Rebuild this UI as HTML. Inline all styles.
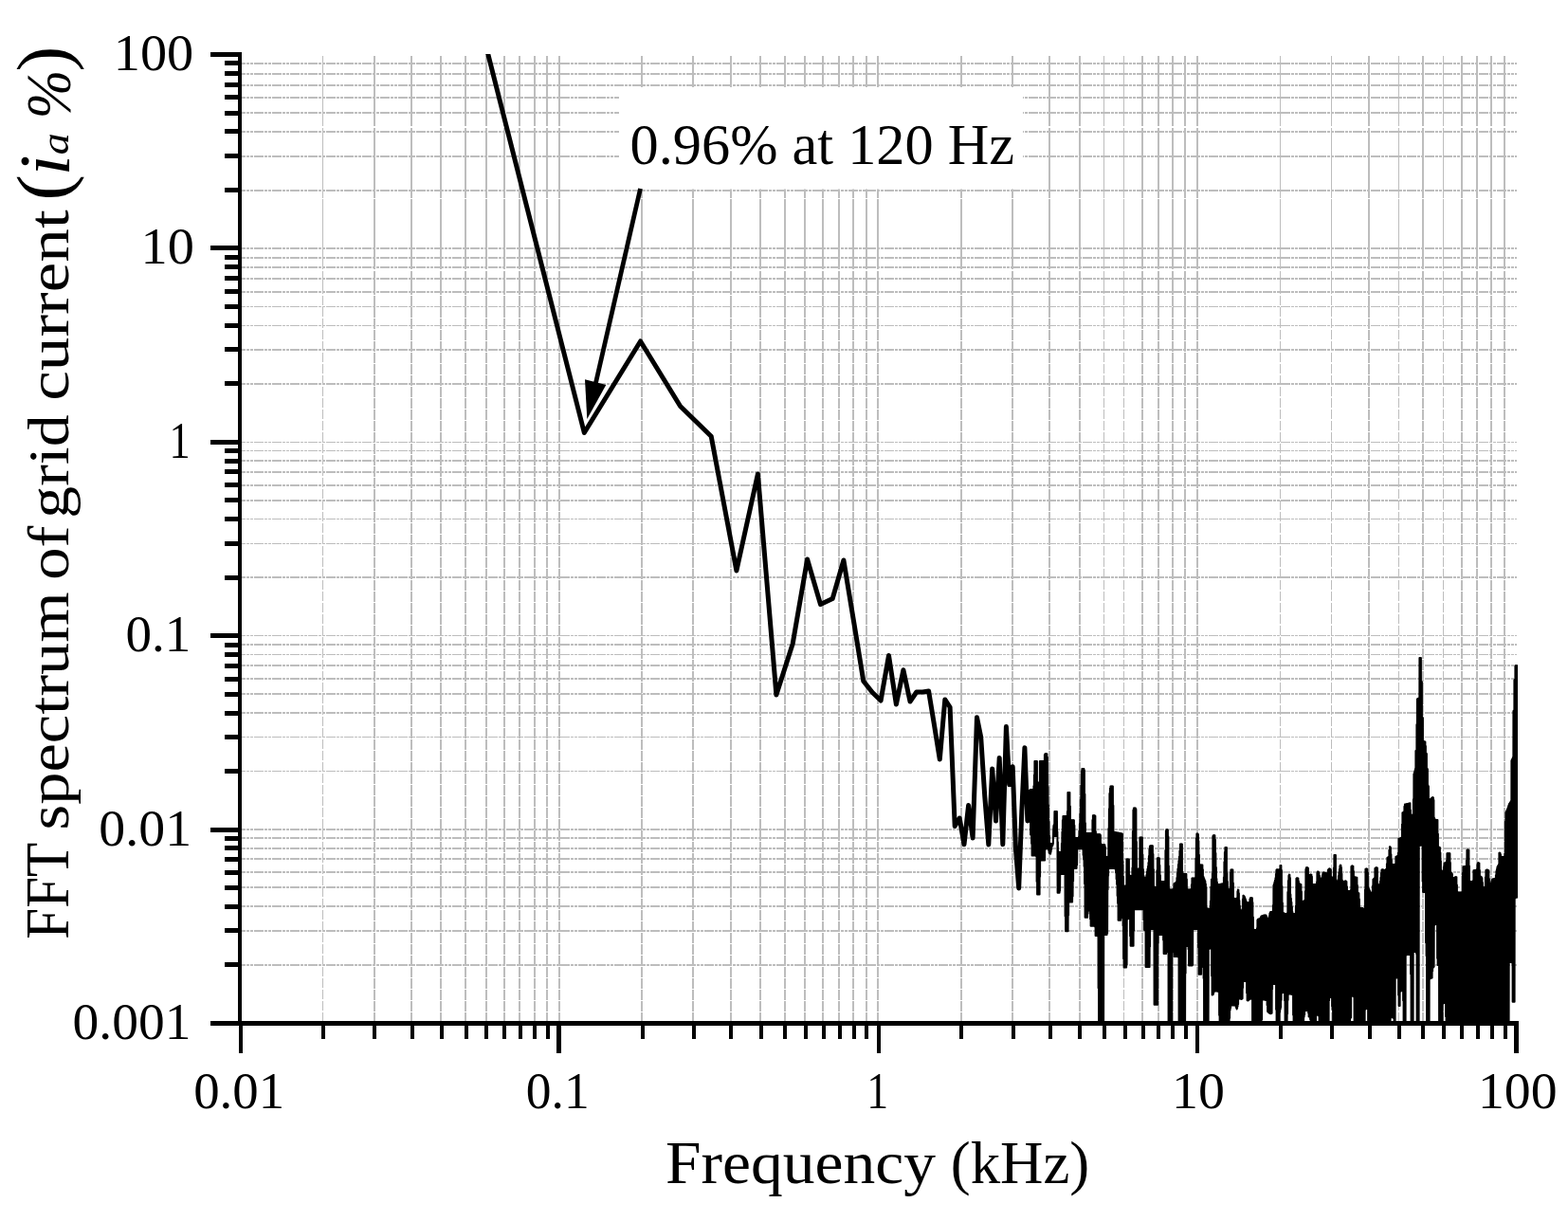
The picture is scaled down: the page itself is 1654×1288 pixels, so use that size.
<!DOCTYPE html>
<html lang="en"><head><meta charset="utf-8"><title>FFT spectrum of grid current</title>
<style>html,body{margin:0;padding:0;background:#fff;}body{width:1654px;height:1288px;overflow:hidden;font-family:"Liberation Serif",serif;}svg{display:block;}text{font-family:"Liberation Serif",serif;fill:#000;}</style></head><body>
<svg width="1654" height="1288" viewBox="0 0 1654 1288">
<rect width="1654" height="1288" fill="#fff"/>
<g id="grid"><path d="M395 59V300M434 59V300M465 59V300M491 59V300M513 59V300M532 59V300M548 59V300M564 59V300M577 59V300M590 59V300M677 59V300M731 59V300M771 59V300M802 59V300M828 59V300M849 59V300M868 59V300M885 59V300M900 59V300M914 59V300M926 59V300M1014 59V300M1068 59V300M1107 59V300M1139 59V300M1205 59V300M1222 59V300M1237 59V300M1250 59V300M1263 59V300M1444 59V300M1501 59V300M1542 59V300M1558 59V300M1573 59V300M1587 59V300" stroke="#bdbdbd" stroke-width="2" fill="none" stroke-dasharray="74 1.5" shape-rendering="crispEdges"/><path d="M340.5 59V300M1164.5 59V300M1185.5 59V300M1350.5 59V300M1404.5 59V300M1475.5 59V300M1522.5 59V300" stroke="#bdbdbd" stroke-width="1" fill="none" stroke-dasharray="74 1.5" shape-rendering="crispEdges"/><path d="M395 300V1077M434 300V1077M465 300V1077M491 300V1077M513 300V1077M532 300V1077M548 300V1077M564 300V1077M577 300V1077M590 300V1077M677 300V1077M731 300V1077M771 300V1077M802 300V1077M828 300V1077M849 300V1077M868 300V1077M885 300V1077M900 300V1077M914 300V1077M926 300V1077M1014 300V1077M1068 300V1077M1107 300V1077M1139 300V1077M1205 300V1077M1222 300V1077M1237 300V1077M1250 300V1077M1263 300V1077M1444 300V1077M1501 300V1077M1542 300V1077M1558 300V1077M1573 300V1077M1587 300V1077" stroke="#bdbdbd" stroke-width="2" fill="none" stroke-dasharray="10.5 1.5" shape-rendering="crispEdges"/><path d="M340.5 300V1077M1164.5 300V1077M1185.5 300V1077M1350.5 300V1077M1404.5 300V1077M1475.5 300V1077M1522.5 300V1077" stroke="#bdbdbd" stroke-width="1" fill="none" stroke-dasharray="9.5 2.5" shape-rendering="crispEdges"/><path d="M255 67H1600M255 78H1600M255 90H1600M255 103H1600M255 119H1600M255 139H1600M255 165H1600M255 201H1600M255 262H1600M255 272H1600M255 282H1600M255 294H1600M255 308H1600M255 369H1600M255 405H1600M255 486H1600M255 498H1600M255 512H1600M255 528H1600M255 609H1600M255 680H1600M255 702H1600M255 716H1600M255 732H1600M255 752H1600M255 875H1600M255 884H1600M255 895H1600M255 906H1600M255 920H1600M255 936H1600M255 956H1600M255 982H1600M255 1018H1600" stroke="#bdbdbd" stroke-width="2" fill="none" stroke-dasharray="3.8 1.3 2.6 1.3 2.6 1.4 6 0" shape-rendering="crispEdges"/><path d="M255 323.5H1600M255 343.5H1600M255 466.5H1600M255 475.5H1600M255 547.5H1600M255 573.5H1600M255 670.5H1600M255 690.5H1600M255 777.5H1600M255 813.5H1600" stroke="#bdbdbd" stroke-width="1" fill="none" stroke-dasharray="3.8 1.3 2.6 1.3 2.6 1.4 6 0" shape-rendering="crispEdges"/></g>
<defs><clipPath id="pc"><rect x="255" y="57" width="1346" height="1022"/></clipPath></defs>
<g clip-path="url(#pc)" fill="none" stroke="#000" stroke-linejoin="round" stroke-linecap="round"><path id="trace" d="M513.6 52.4L616.3 456.5L675.6 360.0L717.6 428.5L750.2 460.3L776.9 602.0L799.4 500.0L818.9 733.0L836.2 679.0L851.6 590.0L865.5 637.5L878.2 631.5L889.9 591.0L900.8 657.0L910.8 718.5L920.3 730.5L929.1 739.0L937.5 691.5L945.4 743.0L952.9 706.7L960.0 740.0L966.8 730.0L973.3 730.0L979.6 729.0L985.5 764.8L991.3 801.1L996.8 737.9L1002.1 746.0L1007.2 871.6L1012.2 863.0L1017.0 890.8L1021.6 849.6L1026.1 884.0L1030.5 756.7L1034.7 777.6L1038.8 840.5L1042.8 891.0L1046.7 810.9L1050.5 866.0L1054.2 799.4L1057.8 890.8L1061.4 766.6L1064.8 827.8L1068.2 808.8L1071.5 896.3L1074.7 936.9L1077.8 856.0L1080.9 788.7L1083.9 866.0L1086.9 835.1" stroke-width="5"/><path id="trace-hf" d="M1086.9 835.1L1086.9 833.1L1087.1 880.6L1087.4 833.1L1087.6 881.1L1087.9 833.1L1088.1 890.0L1088.4 833.1L1088.6 902.6L1088.9 833.1L1089.1 902.6L1089.4 833.0L1089.6 902.6L1089.9 832.7L1090.1 902.6L1090.4 829.3L1090.6 902.6L1090.9 817.6L1091.1 902.6L1091.4 803.0L1091.6 902.6L1091.9 803.0L1092.1 902.6L1092.4 803.0L1092.6 902.8L1092.9 803.0L1093.1 903.6L1093.4 803.0L1093.6 930.0L1093.9 803.0L1094.1 943.5L1094.4 825.0L1094.6 943.5L1094.9 825.9L1095.1 943.5L1095.4 826.0L1095.6 943.5L1095.9 825.9L1096.1 943.5L1096.4 825.0L1096.6 943.5L1096.9 803.0L1097.1 924.8L1097.4 803.0L1097.6 907.6L1097.9 803.0L1098.1 907.5L1098.4 803.0L1098.6 907.4L1098.9 803.0L1099.1 907.4L1099.4 803.0L1099.6 907.4L1099.9 803.0L1100.1 907.4L1100.4 803.0L1100.6 907.4L1100.9 803.0L1101.1 907.4L1101.4 802.6L1101.6 907.4L1101.9 796.3L1102.1 907.4L1102.4 795.2L1102.6 896.3L1102.9 795.2L1103.1 895.5L1103.4 795.2L1103.6 895.3L1103.9 795.2L1104.1 895.3L1104.4 795.2L1104.6 895.3L1104.9 798.7L1105.1 895.4L1105.4 830.0L1105.6 895.8L1105.9 849.3L1106.1 897.1L1106.4 866.7L1106.6 899.4L1106.9 881.7L1107.1 900.3L1107.4 889.6L1107.6 900.6L1107.9 890.0L1108.1 900.8L1108.4 890.0L1108.6 898.6L1108.9 890.0L1109.1 896.1L1109.4 890.0L1109.6 892.2L1109.9 890.0L1110.1 892.5L1110.4 891.6L1110.6 890.6L1110.9 890.0L1111.1 877.4L1111.4 871.4L1111.6 870.5L1111.9 869.8L1112.1 882.0L1112.4 856.1L1112.6 882.0L1112.9 856.1L1113.1 882.0L1113.4 856.1L1113.6 882.0L1113.9 856.1L1114.1 882.0L1114.4 856.1L1114.6 882.1L1114.9 856.1L1115.1 882.6L1115.4 877.3L1115.6 941.7L1115.9 888.3L1116.1 941.7L1116.4 898.1L1116.6 941.7L1116.9 899.0L1117.1 941.7L1117.4 899.1L1117.6 941.7L1117.9 899.1L1118.1 939.8L1118.4 899.1L1118.6 922.4L1118.9 899.0L1119.1 922.1L1119.4 898.5L1119.6 922.0L1119.9 889.8L1120.1 922.0L1120.4 877.5L1120.6 922.0L1120.9 865.2L1121.1 922.0L1121.4 861.0L1121.6 922.0L1121.9 861.0L1122.1 922.0L1122.4 861.0L1122.6 922.0L1122.9 861.0L1123.1 922.3L1123.4 861.0L1123.6 966.5L1123.9 861.0L1124.1 982.3L1124.4 861.0L1124.6 982.3L1124.9 860.9L1125.1 982.3L1125.4 860.8L1125.6 982.3L1125.9 855.9L1126.1 982.3L1126.4 836.1L1126.6 982.3L1126.9 836.1L1127.1 965.4L1127.4 836.1L1127.6 951.6L1127.9 836.1L1128.1 951.4L1128.4 836.1L1128.6 951.4L1128.9 850.6L1129.1 951.4L1129.4 864.9L1129.6 951.4L1129.9 865.2L1130.1 951.4L1130.4 865.2L1130.6 951.4L1130.9 865.2L1131.1 951.4L1131.4 865.2L1131.6 945.4L1131.9 865.2L1132.1 929.4L1132.4 865.2L1132.6 916.2L1132.9 865.2L1133.1 916.0L1133.4 870.8L1133.6 915.9L1133.9 883.4L1134.1 915.9L1134.4 883.9L1134.6 915.9L1134.9 884.0L1135.1 915.9L1135.4 884.0L1135.6 915.9L1135.9 884.0L1136.1 912.6L1136.4 884.0L1136.6 895.9L1136.9 884.0L1137.1 895.5L1137.4 883.8L1137.6 895.3L1137.9 883.0L1138.1 895.3L1138.4 876.6L1138.6 895.3L1138.9 869.1L1139.1 895.3L1139.4 858.4L1139.6 895.3L1139.9 843.4L1140.1 895.3L1140.4 828.4L1140.6 895.3L1140.9 813.2L1141.1 895.3L1141.4 811.0L1141.6 895.5L1141.9 811.0L1142.1 895.9L1142.4 811.0L1142.6 902.1L1142.9 811.0L1143.1 906.8L1143.4 811.0L1143.6 914.0L1143.9 812.6L1144.1 932.3L1144.4 837.8L1144.6 967.8L1144.9 868.2L1145.1 967.8L1145.4 878.8L1145.6 967.8L1145.9 879.1L1146.1 967.8L1146.4 879.1L1146.6 967.8L1146.9 879.1L1147.1 967.8L1147.4 879.1L1147.6 963.7L1147.9 879.1L1148.1 960.6L1148.4 879.1L1148.6 960.4L1148.9 879.1L1149.1 960.4L1149.4 879.1L1149.6 960.9L1149.9 879.1L1150.1 969.5L1150.4 879.1L1150.6 976.8L1150.9 879.1L1151.1 976.8L1151.4 879.1L1151.6 976.8L1151.9 878.7L1152.1 976.8L1152.4 865.1L1152.6 976.8L1152.9 860.3L1153.1 976.8L1153.4 860.3L1153.6 976.8L1153.9 860.3L1154.1 976.8L1154.4 860.3L1154.6 977.0L1154.9 860.3L1155.1 977.8L1155.4 860.8L1155.6 987.1L1155.9 877.3L1156.1 987.1L1156.4 880.1L1156.6 987.1L1156.9 880.3L1157.1 987.1L1157.4 880.3L1157.6 987.2L1157.9 880.3L1158.1 987.3L1158.4 880.3L1158.6 1042.3L1158.9 880.3L1159.1 1086.5L1159.4 880.3L1159.6 1086.5L1159.9 880.3L1160.1 1086.5L1160.4 880.3L1160.6 1086.5L1160.9 881.0L1161.1 1086.5L1161.4 890.0L1161.6 1086.5L1161.9 891.0L1162.1 1086.5L1162.4 891.2L1162.6 1086.5L1162.9 891.2L1163.1 1086.5L1163.4 891.2L1163.6 1086.5L1163.9 891.2L1164.1 1078.5L1164.4 891.2L1164.6 986.2L1164.9 891.2L1165.1 986.0L1165.4 891.2L1165.6 985.9L1165.9 893.5L1166.1 985.9L1166.4 903.4L1166.6 985.9L1166.9 903.9L1167.1 985.9L1167.4 904.0L1167.6 985.9L1167.9 904.0L1168.1 984.4L1168.4 903.9L1168.6 938.6L1168.9 903.6L1169.1 923.8L1169.4 874.1L1169.6 916.1L1169.9 853.3L1170.1 915.9L1170.4 837.0L1170.6 915.9L1170.9 831.8L1171.1 915.9L1171.4 829.5L1171.6 915.9L1171.9 829.5L1172.1 915.9L1172.4 829.5L1172.6 915.9L1172.9 829.5L1173.1 915.9L1173.4 829.5L1173.6 915.9L1173.9 829.5L1174.1 915.9L1174.4 849.8L1174.6 915.9L1174.9 877.4L1175.1 915.9L1175.4 877.8L1175.6 915.9L1175.9 878.0L1176.1 916.0L1176.4 878.1L1176.6 916.9L1176.9 878.2L1177.1 920.8L1177.4 878.2L1177.6 927.3L1177.9 878.3L1178.1 933.0L1178.4 878.4L1178.6 945.0L1178.9 878.5L1179.1 953.0L1179.4 878.6L1179.6 970.8L1179.9 878.7L1180.1 970.8L1180.4 878.8L1180.6 970.8L1180.9 878.9L1181.1 970.8L1181.4 879.0L1181.6 970.8L1181.9 879.1L1182.1 970.8L1182.4 879.2L1182.6 968.4L1182.9 879.3L1183.1 968.0L1183.4 879.4L1183.6 967.8L1183.9 879.5L1184.1 968.0L1184.4 909.0L1184.6 976.4L1184.9 924.7L1185.1 1011.2L1185.4 934.3L1185.6 1020.5L1185.9 934.8L1186.1 1020.5L1186.4 934.8L1186.6 1020.5L1186.9 934.8L1187.1 1020.5L1187.4 934.8L1187.6 1020.5L1187.9 934.3L1188.1 1020.5L1188.4 906.4L1188.6 1017.2L1188.9 906.4L1189.1 970.0L1189.4 906.4L1189.6 969.1L1189.9 906.4L1190.1 969.0L1190.4 906.4L1190.6 969.0L1190.9 906.4L1191.1 969.0L1191.4 922.9L1191.6 969.5L1191.9 923.8L1192.1 987.4L1192.4 923.9L1192.6 997.8L1192.9 923.9L1193.1 997.8L1193.4 923.9L1193.6 997.8L1193.9 923.7L1194.1 997.8L1194.4 915.5L1194.6 997.8L1194.9 876.9L1195.1 997.8L1195.4 854.4L1195.6 997.8L1195.9 852.5L1196.1 981.6L1196.4 852.5L1196.6 959.6L1196.9 852.5L1197.1 959.3L1197.4 852.5L1197.6 959.3L1197.9 852.5L1198.1 959.3L1198.4 853.7L1198.6 959.3L1198.9 887.9L1199.1 959.3L1199.4 916.1L1199.6 959.3L1199.9 916.6L1200.1 959.3L1200.4 916.7L1200.6 959.3L1200.9 916.7L1201.1 959.3L1201.4 916.5L1201.6 959.3L1201.9 915.7L1202.1 959.3L1202.4 883.4L1202.6 959.3L1202.9 883.4L1203.1 959.3L1203.4 883.4L1203.6 959.3L1203.9 883.4L1204.1 959.3L1204.4 883.4L1204.6 959.3L1204.9 883.4L1205.1 959.3L1205.4 901.6L1205.6 959.3L1205.9 916.9L1206.1 959.6L1206.4 923.7L1206.6 970.5L1206.9 925.6L1207.1 981.1L1207.4 925.8L1207.6 981.2L1207.9 925.8L1208.1 981.7L1208.4 925.7L1208.6 1019.9L1208.9 925.5L1209.1 1019.9L1209.4 923.0L1209.6 1019.9L1209.9 919.4L1210.1 1019.9L1210.4 916.7L1210.6 1019.9L1210.9 914.0L1211.1 1019.9L1211.4 910.1L1211.6 1019.9L1211.9 903.1L1212.1 1019.9L1212.4 896.1L1212.6 1019.9L1212.9 892.4L1213.1 998.6L1213.4 892.2L1213.6 980.1L1213.9 892.2L1214.1 979.9L1214.4 892.2L1214.6 979.9L1214.9 892.2L1215.1 979.9L1215.4 892.2L1215.6 979.9L1215.9 892.2L1216.1 979.9L1216.4 900.9L1216.6 980.0L1216.9 917.2L1217.1 980.3L1217.4 935.1L1217.6 1059.8L1217.9 935.9L1218.1 1059.8L1218.4 936.1L1218.6 1059.8L1218.9 936.1L1219.1 1059.8L1219.4 936.0L1219.6 1059.8L1219.9 935.7L1220.1 1059.8L1220.4 918.2L1220.6 1059.8L1220.9 905.2L1221.1 1059.8L1221.4 905.2L1221.6 995.2L1221.9 905.2L1222.1 986.2L1222.4 905.2L1222.6 985.9L1222.9 905.2L1223.1 985.9L1223.4 912.7L1223.6 985.9L1223.9 923.3L1224.1 985.9L1224.4 929.6L1224.6 985.9L1224.9 930.0L1225.1 985.9L1225.4 930.0L1225.6 985.9L1225.9 930.0L1226.1 985.9L1226.4 930.0L1226.6 986.2L1226.9 930.0L1227.1 991.8L1227.4 930.0L1227.6 1005.9L1227.9 930.0L1228.1 1005.9L1228.4 929.9L1228.6 1005.9L1228.9 929.4L1229.1 1005.9L1229.4 896.9L1229.6 1005.9L1229.9 876.4L1230.1 1005.9L1230.4 875.2L1230.6 1004.6L1230.9 875.2L1231.1 1004.3L1231.4 875.2L1231.6 1004.3L1231.9 875.2L1232.1 1004.6L1232.4 882.5L1232.6 1085.9L1232.9 913.6L1233.1 1086.5L1233.4 938.1L1233.6 1086.5L1233.9 938.4L1234.1 1086.5L1234.4 938.5L1234.6 1086.5L1234.9 938.5L1235.1 1086.5L1235.4 938.5L1235.6 1086.5L1235.9 938.5L1236.1 1086.5L1236.4 938.5L1236.6 1004.4L1236.9 938.5L1237.1 1004.2L1237.4 938.3L1237.6 1004.2L1237.9 937.5L1238.1 1004.4L1238.4 932.6L1238.6 1009.0L1238.9 931.8L1239.1 1009.0L1239.4 931.6L1239.6 1009.0L1239.9 931.3L1240.1 1009.0L1240.4 931.1L1240.6 1009.0L1240.9 930.2L1241.1 1009.0L1241.4 925.9L1241.6 1009.0L1241.9 921.3L1242.1 1009.0L1242.4 916.6L1242.6 1009.2L1242.9 912.1L1243.1 1010.0L1243.4 907.9L1243.6 1086.5L1243.9 903.7L1244.1 1086.5L1244.4 897.5L1244.6 1086.5L1244.9 890.4L1245.1 1086.5L1245.4 890.4L1245.6 1086.5L1245.9 890.4L1246.1 1086.5L1246.4 890.4L1246.6 1086.5L1246.9 890.4L1247.1 1086.5L1247.4 919.7L1247.6 1086.5L1247.9 921.9L1248.1 1086.5L1248.4 922.1L1248.6 1086.5L1248.9 922.1L1249.1 1086.5L1249.4 922.1L1249.6 1086.5L1249.9 922.1L1250.1 1086.5L1250.4 922.1L1250.6 1026.7L1250.9 922.1L1251.1 998.4L1251.4 922.1L1251.6 998.1L1251.9 927.6L1252.1 998.0L1252.4 937.9L1252.6 998.1L1252.9 938.4L1253.1 998.2L1253.4 938.5L1253.6 1001.2L1253.9 938.5L1254.1 1018.6L1254.4 938.5L1254.6 1018.6L1254.9 938.5L1255.1 1018.6L1255.4 938.5L1255.6 1018.6L1255.9 938.4L1256.1 1018.6L1256.4 938.1L1256.6 1018.6L1256.9 933.3L1257.1 1018.6L1257.4 926.4L1257.6 1018.6L1257.9 926.4L1258.1 1017.7L1258.4 926.4L1258.6 980.3L1258.9 926.4L1259.1 980.0L1259.4 926.4L1259.6 979.9L1259.9 926.4L1260.1 979.9L1260.4 926.3L1260.6 979.9L1260.9 926.0L1261.1 979.9L1261.4 905.6L1261.6 979.9L1261.9 884.5L1262.1 979.9L1262.4 879.4L1262.6 979.9L1262.9 879.4L1263.1 979.9L1263.4 879.4L1263.6 980.3L1263.9 880.1L1264.1 999.5L1264.4 887.2L1264.6 1027.7L1264.9 901.8L1265.1 1027.7L1265.4 911.9L1265.6 1027.7L1265.9 912.4L1266.1 1027.7L1266.4 912.4L1266.6 1027.7L1266.9 912.4L1267.1 1027.7L1267.4 912.4L1267.6 1020.2L1267.9 912.4L1268.1 1019.8L1268.4 912.4L1268.6 1019.6L1268.9 917.3L1269.1 1019.8L1269.4 924.8L1269.6 1032.1L1269.9 926.0L1270.1 1086.5L1270.4 927.3L1270.6 1086.5L1270.9 928.5L1271.1 1086.5L1271.4 929.8L1271.6 1086.5L1271.9 932.4L1272.1 1086.5L1272.4 936.6L1272.6 1086.5L1272.9 957.8L1273.1 1086.5L1273.4 958.7L1273.6 1086.5L1273.9 958.8L1274.1 1086.5L1274.4 958.8L1274.6 1082.3L1274.9 958.8L1275.1 1001.5L1275.4 958.8L1275.6 1000.6L1275.9 958.8L1276.1 1000.5L1276.4 958.4L1276.6 1000.5L1276.9 950.4L1277.1 1000.5L1277.4 935.4L1277.6 1001.0L1277.9 927.6L1278.1 1029.5L1278.4 927.4L1278.6 1049.5L1278.9 921.6L1279.1 1049.6L1279.4 882.1L1279.6 1049.2L1279.9 881.3L1280.1 1048.1L1280.4 881.3L1280.6 1046.5L1280.9 881.3L1281.1 1045.7L1281.4 881.3L1281.6 1045.3L1281.9 885.8L1282.1 1045.3L1282.4 900.0L1282.6 1045.4L1282.9 915.0L1283.1 1045.5L1283.4 927.1L1283.6 1045.6L1283.9 930.6L1284.1 1045.7L1284.4 932.7L1284.6 1045.8L1284.9 933.1L1285.1 1045.9L1285.4 933.1L1285.6 1046.4L1285.9 933.0L1286.1 1071.0L1286.4 932.9L1286.6 1086.5L1286.9 932.9L1287.1 1086.5L1287.4 932.8L1287.6 1086.5L1287.9 932.7L1288.1 1086.5L1288.4 932.6L1288.6 1086.5L1288.9 932.5L1289.1 1086.5L1289.4 932.5L1289.6 1086.5L1289.9 932.4L1290.1 1086.5L1290.4 932.1L1290.6 1086.5L1290.9 925.6L1291.1 1086.5L1291.4 909.2L1291.6 1086.5L1291.9 898.9L1292.1 1086.5L1292.4 894.0L1292.6 1086.5L1292.9 894.0L1293.1 1086.5L1293.4 894.0L1293.6 1086.5L1293.9 894.0L1294.1 1086.5L1294.4 921.2L1294.6 1086.5L1294.9 930.1L1295.1 1086.5L1295.4 937.6L1295.6 1086.5L1295.9 938.5L1296.1 1086.5L1296.4 938.6L1296.6 1086.5L1296.9 938.5L1297.1 1074.0L1297.4 937.6L1297.6 1065.4L1297.9 921.1L1298.1 1063.2L1298.4 917.5L1298.6 1060.8L1298.9 917.4L1299.1 1060.5L1299.4 917.4L1299.6 1060.4L1299.9 917.4L1300.1 1060.4L1300.4 917.4L1300.6 1060.4L1300.9 931.4L1301.1 1060.4L1301.4 947.3L1301.6 1060.4L1301.9 947.8L1302.1 1060.4L1302.4 947.9L1302.6 1060.5L1302.9 947.9L1303.1 1060.7L1303.4 947.9L1303.6 1062.1L1303.9 947.9L1304.1 1063.3L1304.4 947.8L1304.6 1064.4L1304.9 947.3L1305.1 1063.5L1305.4 940.3L1305.6 1061.5L1305.9 938.5L1306.1 1059.3L1306.4 938.8L1306.6 1054.2L1306.9 942.2L1307.1 1053.4L1307.4 950.1L1307.6 1053.2L1307.9 955.6L1308.1 1053.3L1308.4 959.9L1308.6 1053.6L1308.9 960.4L1309.1 1053.9L1309.4 960.5L1309.6 1054.1L1309.9 960.3L1310.1 1053.7L1310.4 959.0L1310.6 1053.2L1310.9 948.4L1311.1 1041.9L1311.4 944.7L1311.6 1035.2L1311.9 944.8L1312.1 1035.0L1312.4 945.4L1312.6 1035.0L1312.9 946.0L1313.1 1035.0L1313.4 947.2L1313.6 1035.0L1313.9 948.7L1314.1 1035.0L1314.4 950.2L1314.6 1035.4L1314.9 951.6L1315.1 1047.4L1315.4 952.1L1315.6 1055.2L1315.9 952.2L1316.1 1055.5L1316.4 952.2L1316.6 1055.4L1316.9 952.2L1317.1 1055.0L1317.4 952.0L1317.6 1054.5L1317.9 951.5L1318.1 1054.2L1318.4 948.8L1318.6 1053.7L1318.9 947.3L1319.1 1053.4L1319.4 947.3L1319.6 1053.2L1319.9 947.3L1320.1 1053.3L1320.4 947.3L1320.6 1054.2L1320.9 947.3L1321.1 1084.2L1321.4 952.0L1321.6 1086.5L1321.9 967.4L1322.1 1086.5L1322.4 980.3L1322.6 1086.5L1322.9 980.8L1323.1 1086.5L1323.4 980.9L1323.6 1086.5L1323.9 980.9L1324.1 1086.5L1324.4 980.9L1324.6 1086.5L1324.9 980.9L1325.1 1086.5L1325.4 980.7L1325.6 1086.5L1325.9 979.2L1326.1 1086.5L1326.4 970.5L1326.6 1086.5L1326.9 969.8L1327.1 1086.5L1327.4 969.6L1327.6 1086.5L1327.9 969.4L1328.1 1086.5L1328.4 969.2L1328.6 1086.5L1328.9 969.0L1329.1 1086.5L1329.4 968.5L1329.6 1086.5L1329.9 967.5L1330.1 1086.5L1330.4 966.5L1330.6 1086.5L1330.9 966.3L1331.1 1075.2L1331.4 966.2L1331.6 1054.6L1331.9 966.0L1332.1 1054.4L1332.4 965.8L1332.6 1054.4L1332.9 965.7L1333.1 1054.5L1333.4 965.5L1333.6 1054.6L1333.9 965.5L1334.1 1054.7L1334.4 965.5L1334.6 1054.8L1334.9 965.5L1335.1 1054.9L1335.4 965.5L1335.6 1055.0L1335.9 966.2L1336.1 1055.2L1336.4 967.7L1336.6 1060.2L1336.9 968.7L1337.1 1067.1L1337.4 969.0L1337.6 1067.6L1337.9 969.0L1338.1 1067.9L1338.4 968.6L1338.6 1068.4L1338.9 966.3L1339.1 1068.7L1339.4 963.6L1339.6 1069.0L1339.9 962.2L1340.1 1069.2L1340.4 962.1L1340.6 1069.3L1340.9 962.0L1341.1 1069.1L1341.4 961.9L1341.6 1068.8L1341.9 961.8L1342.1 1043.4L1342.4 961.6L1342.6 1038.2L1342.9 955.1L1343.1 1038.0L1343.4 934.1L1343.6 1038.0L1343.9 932.4L1344.1 1038.0L1344.4 930.6L1344.6 1038.0L1344.9 928.8L1345.1 1038.0L1345.4 926.2L1345.6 1038.4L1345.9 921.9L1346.1 1065.1L1346.4 917.7L1346.6 1086.5L1346.9 917.2L1347.1 1086.5L1347.4 917.2L1347.6 1086.5L1347.9 917.4L1348.1 1086.5L1348.4 917.5L1348.6 1086.5L1348.9 917.6L1349.1 1086.5L1349.4 917.5L1349.6 1086.5L1349.9 917.1L1350.1 1067.7L1350.4 913.0L1350.6 1064.7L1350.9 913.0L1351.1 1062.7L1351.4 913.0L1351.6 1055.1L1351.9 918.0L1352.1 1047.7L1352.4 934.9L1352.6 1047.2L1352.9 952.4L1353.1 1047.1L1353.4 962.7L1353.6 1047.1L1353.9 963.0L1354.1 1047.1L1354.4 963.2L1354.6 1047.4L1354.9 963.5L1355.1 1055.5L1355.4 963.7L1355.6 1086.5L1355.9 963.9L1356.1 1086.5L1356.4 964.1L1356.6 1086.5L1356.9 964.2L1357.1 1086.5L1357.4 964.1L1357.6 1086.5L1357.9 963.2L1358.1 1069.5L1358.4 940.9L1358.6 1054.9L1358.9 929.0L1359.1 1048.9L1359.4 923.8L1359.6 1048.4L1359.9 922.6L1360.1 1048.3L1360.4 922.8L1360.6 1048.4L1360.9 925.9L1361.1 1048.5L1361.4 943.4L1361.6 1048.7L1361.9 947.8L1362.1 1048.7L1362.4 951.8L1362.6 1048.9L1362.9 956.6L1363.1 1049.0L1363.4 962.1L1363.6 1049.5L1363.9 963.7L1364.1 1070.8L1364.4 963.9L1364.6 1086.5L1364.9 963.9L1365.1 1086.5L1365.4 963.9L1365.6 1086.5L1365.9 963.9L1366.1 1086.5L1366.4 963.7L1366.6 1086.5L1366.9 955.7L1367.1 1086.5L1367.4 926.7L1367.6 1086.5L1367.9 926.3L1368.1 1086.5L1368.4 926.3L1368.6 1086.5L1368.9 926.4L1369.1 1086.5L1369.4 926.5L1369.6 1086.5L1369.9 929.6L1370.1 1086.5L1370.4 931.8L1370.6 1086.5L1370.9 932.2L1371.1 1086.5L1371.4 932.4L1371.6 1086.5L1371.9 932.7L1372.1 1086.5L1372.4 932.9L1372.6 1086.5L1372.9 940.6L1373.1 1086.5L1373.4 950.4L1373.6 1086.5L1373.9 950.8L1374.1 1086.5L1374.4 950.9L1374.6 1086.5L1374.9 950.7L1375.1 1080.6L1375.4 950.3L1375.6 1072.7L1375.9 949.9L1376.1 1070.4L1376.4 949.5L1376.6 1066.2L1376.9 940.3L1377.1 1065.9L1377.4 917.1L1377.6 1065.9L1377.9 915.3L1378.1 1065.9L1378.4 915.2L1378.6 1065.9L1378.9 915.2L1379.1 1065.9L1379.4 915.2L1379.6 1066.2L1379.9 915.8L1380.1 1068.4L1380.4 922.7L1380.6 1072.4L1380.9 923.0L1381.1 1072.5L1381.4 923.1L1381.6 1072.8L1381.9 922.8L1382.1 1075.3L1382.4 922.6L1382.6 1086.5L1382.9 922.4L1383.1 1086.5L1383.4 922.8L1383.6 1086.5L1383.9 924.7L1384.1 1086.5L1384.4 932.7L1384.6 1086.5L1384.9 933.1L1385.1 1086.5L1385.4 933.1L1385.6 1086.5L1385.9 933.1L1386.1 1086.5L1386.4 933.1L1386.6 1086.5L1386.9 933.1L1387.1 1086.5L1387.4 933.1L1387.6 1086.5L1387.9 933.1L1388.1 1077.3L1388.4 932.9L1388.6 1070.9L1388.9 930.5L1389.1 1070.7L1389.4 919.9L1389.6 1070.7L1389.9 919.4L1390.1 1070.7L1390.4 919.5L1390.6 1070.9L1390.9 919.7L1391.1 1071.7L1391.4 920.8L1391.6 1086.5L1391.9 923.7L1392.1 1086.5L1392.4 926.5L1392.6 1086.5L1392.9 927.0L1393.1 1086.5L1393.4 927.0L1393.6 1086.5L1393.9 926.9L1394.1 1086.5L1394.4 925.6L1394.6 1086.5L1394.9 923.2L1395.1 1086.5L1395.4 920.9L1395.6 1086.5L1395.9 920.6L1396.1 1086.5L1396.4 920.4L1396.6 1086.5L1396.9 920.6L1397.1 1086.5L1397.4 920.7L1397.6 1086.5L1397.9 920.9L1398.1 1086.5L1398.4 921.0L1398.6 1086.5L1398.9 921.2L1399.1 1086.5L1399.4 921.2L1399.6 1086.5L1399.9 921.0L1400.1 1086.5L1400.4 920.1L1400.6 1086.5L1400.9 917.8L1401.1 1086.5L1401.4 916.9L1401.6 1086.5L1401.9 916.6L1402.1 1055.2L1402.4 916.3L1402.6 1052.1L1402.9 916.5L1403.1 1052.0L1403.4 916.8L1403.6 1052.0L1403.9 917.7L1404.1 1052.0L1404.4 924.9L1404.6 1052.5L1404.9 925.7L1405.1 1061.5L1405.4 925.9L1405.6 1065.0L1405.9 925.7L1406.1 1080.7L1406.4 924.9L1406.6 1086.5L1406.9 915.5L1407.1 1086.5L1407.4 902.1L1407.6 1086.5L1407.9 902.1L1408.1 1086.5L1408.4 902.1L1408.6 1086.5L1408.9 902.1L1409.1 1086.5L1409.4 929.1L1409.6 1086.5L1409.9 929.6L1410.1 1086.5L1410.4 929.7L1410.6 1086.5L1410.9 929.5L1411.1 1086.5L1411.4 927.9L1411.6 1086.5L1411.9 924.1L1412.1 1086.5L1412.4 920.2L1412.6 1086.5L1412.9 916.9L1413.1 1086.5L1413.4 913.6L1413.6 1086.5L1413.9 912.4L1414.1 1086.5L1414.4 912.7L1414.6 1086.5L1414.9 914.9L1415.1 1086.5L1415.4 921.8L1415.6 1086.5L1415.9 928.6L1416.1 1086.5L1416.4 929.8L1416.6 1086.5L1416.9 930.0L1417.1 1086.5L1417.4 929.9L1417.6 1086.5L1417.9 929.7L1418.1 1086.5L1418.4 929.5L1418.6 1086.5L1418.9 929.4L1419.1 1086.5L1419.4 929.3L1419.6 1086.5L1419.9 929.6L1420.1 1086.5L1420.4 929.9L1420.6 1086.5L1420.9 935.3L1421.1 1086.5L1421.4 939.6L1421.6 1086.5L1421.9 940.0L1422.1 1086.5L1422.4 940.0L1422.6 1086.5L1422.9 940.0L1423.1 1086.5L1423.4 940.0L1423.6 1086.5L1423.9 940.0L1424.1 1078.1L1424.4 939.9L1424.6 1073.9L1424.9 939.0L1425.1 1073.6L1425.4 913.9L1425.6 1051.0L1425.9 913.5L1426.1 1050.8L1426.4 913.3L1426.6 1050.7L1426.9 913.5L1427.1 1050.7L1427.4 913.7L1427.6 1050.9L1427.9 919.1L1428.1 1051.7L1428.4 924.6L1428.6 1086.5L1428.9 925.1L1429.1 1086.5L1429.4 925.2L1429.6 1086.5L1429.9 925.4L1430.1 1086.5L1430.4 925.5L1430.6 1086.5L1430.9 925.7L1431.1 1086.5L1431.4 925.8L1431.6 1086.5L1431.9 933.9L1432.1 1086.5L1432.4 941.5L1432.6 1086.5L1432.9 942.0L1433.1 1086.5L1433.4 942.2L1433.6 1086.5L1433.9 948.6L1434.1 1086.5L1434.4 957.7L1434.6 1086.5L1434.9 957.9L1435.1 1086.5L1435.4 958.0L1435.6 1086.5L1435.9 958.0L1436.1 1086.5L1436.4 958.0L1436.6 1086.5L1436.9 958.0L1437.1 1086.5L1437.4 958.1L1437.6 1086.5L1437.9 958.5L1438.1 1086.5L1438.4 958.7L1438.6 1086.5L1438.9 958.8L1439.1 1086.5L1439.4 958.5L1439.6 1086.5L1439.9 938.5L1440.1 1065.1L1440.4 916.8L1440.6 1064.2L1440.9 916.5L1441.1 1064.1L1441.4 916.4L1441.6 1064.1L1441.9 916.6L1442.1 1064.1L1442.4 916.8L1442.6 1064.5L1442.9 920.6L1443.1 1076.4L1443.4 936.1L1443.6 1086.5L1443.9 937.2L1444.1 1086.5L1444.4 938.4L1444.6 1086.5L1444.9 939.5L1445.1 1086.5L1445.4 940.6L1445.6 1086.5L1445.9 941.6L1446.1 1086.5L1446.4 941.8L1446.6 1086.5L1446.9 941.8L1447.1 1086.5L1447.4 941.4L1447.6 1086.5L1447.9 934.4L1448.1 1086.5L1448.4 927.8L1448.6 1086.5L1448.9 927.3L1449.1 1086.5L1449.4 926.8L1449.6 1086.5L1449.9 926.2L1450.1 1086.5L1450.4 915.9L1450.6 1086.5L1450.9 915.5L1451.1 1086.5L1451.4 915.2L1451.6 1086.5L1451.9 915.2L1452.1 1086.5L1452.4 915.2L1452.6 1086.5L1452.9 915.6L1453.1 1086.5L1453.4 933.1L1453.6 1086.5L1453.9 933.6L1454.1 1086.5L1454.4 933.7L1454.6 1086.5L1454.9 933.5L1455.1 1086.5L1455.4 932.2L1455.6 1086.5L1455.9 929.7L1456.1 1086.5L1456.4 925.7L1456.6 1086.5L1456.9 921.0L1457.1 1086.5L1457.4 917.7L1457.6 1086.5L1457.9 917.3L1458.1 1086.5L1458.4 917.3L1458.6 1086.5L1458.9 917.5L1459.1 1086.5L1459.4 917.6L1459.6 1086.5L1459.9 917.7L1460.1 1086.5L1460.4 917.9L1460.6 1086.5L1460.9 917.8L1461.1 1086.5L1461.4 917.5L1461.6 1086.5L1461.9 917.1L1462.1 1086.5L1462.4 916.8L1462.6 1086.5L1462.9 911.2L1463.1 1086.5L1463.4 904.8L1463.6 1086.5L1463.9 904.5L1464.1 1086.5L1464.4 904.1L1464.6 1086.5L1464.9 903.7L1465.1 1086.5L1465.4 896.7L1465.6 1086.5L1465.9 893.3L1466.1 1086.5L1466.4 893.2L1466.6 1086.5L1466.9 894.0L1467.1 1073.7L1467.4 901.3L1467.6 1073.2L1467.9 906.9L1468.1 1073.2L1468.4 911.4L1468.6 1073.2L1468.9 911.8L1469.1 1073.2L1469.4 911.9L1469.6 1073.4L1469.9 911.9L1470.1 1074.2L1470.4 911.9L1470.6 1086.5L1470.9 911.9L1471.1 1086.5L1471.4 911.8L1471.6 1086.5L1471.9 911.4L1472.1 1031.9L1472.4 903.8L1472.6 1031.4L1472.9 903.4L1473.1 1031.4L1473.4 903.2L1473.6 1031.4L1473.9 902.9L1474.1 1031.4L1474.4 902.7L1474.6 1031.8L1474.9 899.8L1475.1 1049.8L1475.4 884.8L1475.6 1061.0L1475.9 884.7L1476.1 1061.0L1476.4 884.5L1476.6 1061.0L1476.9 884.3L1477.1 1045.9L1477.4 884.1L1477.6 1045.3L1477.9 883.9L1478.1 1045.3L1478.4 883.5L1478.6 1045.3L1478.9 869.8L1479.1 1045.3L1479.4 857.3L1479.6 1045.6L1479.9 857.0L1480.1 1055.5L1480.4 856.7L1480.6 1086.5L1480.9 856.2L1481.1 1086.5L1481.4 850.7L1481.6 1086.5L1481.9 848.6L1482.1 1086.5L1482.4 848.5L1482.6 1086.5L1482.9 848.4L1483.1 1008.1L1483.4 848.3L1483.6 1007.2L1483.9 848.1L1484.1 1007.1L1484.4 848.0L1484.6 1007.1L1484.9 847.9L1485.1 1007.1L1485.4 847.8L1485.6 1007.1L1485.9 847.7L1486.1 1007.1L1486.4 847.6L1486.6 1007.1L1486.9 847.4L1487.1 1007.1L1487.4 847.3L1487.6 1007.4L1487.9 854.6L1488.1 1027.5L1488.4 859.5L1488.6 1086.5L1488.9 859.7L1489.1 1086.5L1489.4 859.8L1489.6 1086.5L1489.9 859.7L1490.1 1086.5L1490.4 859.5L1490.6 1086.5L1490.9 843.2L1491.1 1004.5L1491.4 816.6L1491.6 1004.1L1491.9 814.8L1492.1 1004.1L1492.4 813.0L1492.6 1004.1L1492.9 811.1L1493.1 1004.1L1493.4 792.0L1493.6 1004.4L1493.9 791.7L1494.1 1005.9L1494.4 764.2L1494.6 1086.5L1494.9 737.4L1495.1 1086.5L1495.4 737.1L1495.6 1086.5L1495.9 736.9L1496.1 1086.5L1496.4 736.6L1496.6 1086.5L1496.9 736.2L1497.1 892.3L1497.4 694.1L1497.6 891.7L1497.9 694.1L1498.1 891.7L1498.4 694.1L1498.6 891.7L1498.9 694.1L1499.1 891.7L1499.4 718.8L1499.6 891.7L1499.9 719.2L1500.1 891.9L1500.4 757.0L1500.6 929.8L1500.9 757.3L1501.1 941.1L1501.4 781.8L1501.6 941.1L1501.9 782.1L1502.1 941.1L1502.4 782.2L1502.6 941.1L1502.9 782.3L1503.1 941.1L1503.4 782.5L1503.6 941.5L1503.9 786.9L1504.1 994.4L1504.4 794.7L1504.6 1008.3L1504.9 794.9L1505.1 1080.5L1505.4 810.8L1505.6 1086.5L1505.9 811.2L1506.1 1086.5L1506.4 828.5L1506.6 1086.5L1506.9 829.4L1507.1 1086.5L1507.4 842.9L1507.6 1086.5L1507.9 843.3L1508.1 1033.0L1508.4 843.3L1508.6 1032.0L1508.9 843.0L1509.1 1031.9L1509.4 842.5L1509.6 1031.8L1509.9 841.9L1510.1 1031.7L1510.4 841.4L1510.6 1031.6L1510.9 841.2L1511.1 1024.6L1511.4 841.1L1511.6 1020.6L1511.9 841.4L1512.1 1020.4L1512.4 843.9L1512.6 1019.8L1512.9 862.4L1513.1 976.0L1513.4 864.4L1513.6 975.1L1513.9 864.6L1514.1 975.0L1514.4 864.7L1514.6 975.0L1514.9 864.8L1515.1 975.1L1515.4 864.9L1515.6 975.4L1515.9 865.0L1516.1 1011.0L1516.4 865.0L1516.6 1018.0L1516.9 879.8L1517.1 1018.1L1517.4 893.3L1517.6 1018.6L1517.9 893.6L1518.1 1086.5L1518.4 893.8L1518.6 1086.5L1518.9 894.0L1519.1 1086.5L1519.4 899.4L1519.6 1086.5L1519.9 908.2L1520.1 1086.5L1520.4 917.9L1520.6 1086.5L1520.9 919.0L1521.1 1086.5L1521.4 919.2L1521.6 1086.5L1521.9 919.1L1522.1 1059.0L1522.4 918.6L1522.6 1058.1L1522.9 914.5L1523.1 1058.0L1523.4 910.4L1523.6 1058.0L1523.9 910.3L1524.1 1058.0L1524.4 910.2L1524.6 1058.4L1524.9 910.1L1525.1 1072.2L1525.4 909.8L1525.6 1086.5L1525.9 908.0L1526.1 1086.5L1526.4 900.3L1526.6 1086.5L1526.9 900.3L1527.1 1086.5L1527.4 900.3L1527.6 1086.5L1527.9 900.3L1528.1 1086.5L1528.4 900.3L1528.6 1086.5L1528.9 900.3L1529.1 1086.5L1529.4 900.3L1529.6 1086.5L1529.9 909.9L1530.1 1086.5L1530.4 920.6L1530.6 1086.5L1530.9 920.9L1531.1 1086.5L1531.4 921.1L1531.6 1086.5L1531.9 922.1L1532.1 1086.5L1532.4 925.7L1532.6 1086.5L1532.9 926.2L1533.1 1086.5L1533.4 926.3L1533.6 1086.5L1533.9 926.2L1534.1 1086.5L1534.4 925.7L1534.6 1086.5L1534.9 925.2L1535.1 1086.5L1535.4 925.2L1535.6 1086.5L1535.9 925.2L1536.1 1086.5L1536.4 925.2L1536.6 1086.5L1536.9 933.5L1537.1 1086.5L1537.4 941.1L1537.6 1086.5L1537.9 941.5L1538.1 1086.5L1538.4 941.5L1538.6 1086.5L1538.9 941.5L1539.1 1086.5L1539.4 941.5L1539.6 1086.5L1539.9 941.5L1540.1 1086.5L1540.4 941.5L1540.6 1086.5L1540.9 941.5L1541.1 1086.5L1541.4 941.5L1541.6 1086.5L1541.9 941.4L1542.1 1086.5L1542.4 941.0L1542.6 1086.5L1542.9 921.0L1543.1 1086.5L1543.4 914.2L1543.6 1086.5L1543.9 914.2L1544.1 1086.5L1544.4 914.1L1544.6 1086.5L1544.9 914.1L1545.1 1086.5L1545.4 914.1L1545.6 1086.5L1545.9 914.0L1546.1 1086.5L1546.4 913.6L1546.6 1086.5L1546.9 907.7L1547.1 1086.5L1547.4 896.7L1547.6 1086.5L1547.9 896.5L1548.1 1086.5L1548.4 896.2L1548.6 1086.5L1548.9 896.5L1549.1 1086.5L1549.4 896.8L1549.6 1086.5L1549.9 913.5L1550.1 1086.5L1550.4 929.5L1550.6 1086.5L1550.9 929.9L1551.1 1086.5L1551.4 930.0L1551.6 1086.5L1551.9 930.0L1552.1 1086.5L1552.4 930.0L1552.6 1086.5L1552.9 930.0L1553.1 1086.5L1553.4 929.9L1553.6 1086.5L1553.9 929.0L1554.1 1086.5L1554.4 918.3L1554.6 1086.5L1554.9 918.3L1555.1 1086.5L1555.4 918.2L1555.6 1086.5L1555.9 918.1L1556.1 1086.5L1556.4 918.0L1556.6 1086.5L1556.9 917.9L1557.1 1086.5L1557.4 917.8L1557.6 1086.5L1557.9 916.9L1558.1 1086.5L1558.4 911.4L1558.6 1086.5L1558.9 910.2L1559.1 1086.5L1559.4 910.1L1559.6 1086.5L1559.9 910.2L1560.1 1086.5L1560.4 910.4L1560.6 1086.5L1560.9 917.9L1561.1 1086.5L1561.4 924.2L1561.6 1086.5L1561.9 924.6L1562.1 1086.5L1562.4 924.9L1562.6 1086.5L1562.9 925.2L1563.1 1086.5L1563.4 926.5L1563.6 1086.5L1563.9 931.0L1564.1 1086.5L1564.4 935.5L1564.6 1086.5L1564.9 936.4L1565.1 1086.5L1565.4 936.5L1565.6 1086.5L1565.9 936.4L1566.1 1086.5L1566.4 935.5L1566.6 1086.5L1566.9 925.4L1567.1 1086.5L1567.4 918.0L1567.6 1086.5L1567.9 917.8L1568.1 1086.5L1568.4 917.5L1568.6 1086.5L1568.9 917.6L1569.1 1086.5L1569.4 917.8L1569.6 1086.5L1569.9 918.0L1570.1 1086.5L1570.4 918.2L1570.6 1086.5L1570.9 926.9L1571.1 1086.5L1571.4 931.5L1571.6 1086.5L1571.9 931.8L1572.1 1086.5L1572.4 931.7L1572.6 1086.5L1572.9 931.4L1573.1 1086.5L1573.4 929.8L1573.6 1086.5L1573.9 928.1L1574.1 1086.5L1574.4 927.4L1574.6 1086.5L1574.9 927.3L1575.1 1086.5L1575.4 927.2L1575.6 1086.5L1575.9 927.2L1576.1 1086.5L1576.4 927.1L1576.6 1086.5L1576.9 927.0L1577.1 1086.5L1577.4 926.6L1577.6 1086.5L1577.9 923.3L1578.1 1086.5L1578.4 919.0L1578.6 1086.5L1578.9 916.9L1579.1 1086.5L1579.4 914.7L1579.6 1086.5L1579.9 913.5L1580.1 1086.5L1580.4 913.0L1580.6 1086.5L1580.9 912.1L1581.1 1086.5L1581.4 899.7L1581.6 1086.5L1581.9 899.4L1582.1 1086.5L1582.4 899.8L1582.6 1086.5L1582.9 901.2L1583.1 1086.5L1583.4 903.6L1583.6 1086.5L1583.9 903.9L1584.1 1086.5L1584.4 904.0L1584.6 1086.5L1584.9 904.0L1585.1 1086.5L1585.4 904.0L1585.6 1086.5L1585.9 904.0L1586.1 1086.5L1586.4 903.9L1586.6 1086.5L1586.9 903.4L1587.1 1086.5L1587.4 900.3L1587.6 1086.5L1587.9 866.7L1588.1 1086.5L1588.4 856.9L1588.6 1086.5L1588.9 855.9L1589.1 1086.5L1589.4 854.9L1589.6 1086.5L1589.9 853.8L1590.1 1086.5L1590.4 852.4L1590.6 1086.5L1590.9 850.9L1591.1 1086.5L1591.4 849.4L1591.6 1079.8L1591.9 848.1L1592.1 1015.6L1592.4 847.4L1592.6 1015.1L1592.9 846.6L1593.1 1015.0L1593.4 845.9L1593.6 1015.0L1593.9 844.9L1594.1 1015.0L1594.4 802.3L1594.6 1015.2L1594.9 801.2L1595.1 1016.0L1595.4 800.2L1595.6 1056.8L1595.9 798.9L1596.1 1056.8L1596.4 750.0L1596.6 1056.8L1596.9 749.6L1597.1 1056.8L1597.4 717.3L1597.6 1056.8L1597.9 716.8L1598.1 947.8L1598.4 702.2L1598.6 946.9L1598.9 702.2L1599.1 946.8L1599.4 702.2L1599.6 946.8L1599.9 702.2L1600.1 946.8L1600.4 702.2" stroke-width="2"/></g>
<rect x="653" y="92" width="426" height="107.5" fill="#fff"/>
<path d="M675.5 199L625 419" stroke="#000" stroke-width="4.8" fill="none"/>
<path d="M619.3 442L617 400.2L639.3 406Z" fill="#000"/>
<g id="axes" fill="#000" shape-rendering="crispEdges"><rect x="251" y="55" width="4" height="1027"/><rect x="222" y="1077" width="1380" height="5"/><rect x="222" y="55" width="31" height="5"/><rect x="237" y="198" width="16" height="5"/><rect x="237" y="162" width="16" height="5"/><rect x="237" y="136" width="16" height="5"/><rect x="237" y="117" width="16" height="5"/><rect x="237" y="100" width="16" height="5"/><rect x="237" y="87" width="16" height="5"/><rect x="237" y="75" width="16" height="5"/><rect x="237" y="64" width="16" height="5"/><rect x="222" y="259" width="31" height="5"/><rect x="237" y="402" width="16" height="5"/><rect x="237" y="366" width="16" height="5"/><rect x="237" y="341" width="16" height="5"/><rect x="237" y="321" width="16" height="5"/><rect x="237" y="305" width="16" height="5"/><rect x="237" y="291" width="16" height="5"/><rect x="237" y="279" width="16" height="5"/><rect x="237" y="269" width="16" height="5"/><rect x="222" y="464" width="31" height="5"/><rect x="237" y="607" width="16" height="5"/><rect x="237" y="571" width="16" height="5"/><rect x="237" y="545" width="16" height="5"/><rect x="237" y="525" width="16" height="5"/><rect x="237" y="509" width="16" height="5"/><rect x="237" y="495" width="16" height="5"/><rect x="237" y="484" width="16" height="5"/><rect x="237" y="473" width="16" height="5"/><rect x="222" y="668" width="31" height="5"/><rect x="237" y="811" width="16" height="5"/><rect x="237" y="775" width="16" height="5"/><rect x="237" y="750" width="16" height="5"/><rect x="237" y="730" width="16" height="5"/><rect x="237" y="714" width="16" height="5"/><rect x="237" y="700" width="16" height="5"/><rect x="237" y="688" width="16" height="5"/><rect x="237" y="678" width="16" height="5"/><rect x="222" y="873" width="31" height="5"/><rect x="237" y="1015" width="16" height="5"/><rect x="237" y="979" width="16" height="5"/><rect x="237" y="954" width="16" height="5"/><rect x="237" y="934" width="16" height="5"/><rect x="237" y="918" width="16" height="5"/><rect x="237" y="904" width="16" height="5"/><rect x="237" y="892" width="16" height="5"/><rect x="237" y="882" width="16" height="5"/><rect x="222" y="1077" width="31" height="5"/><rect x="252" y="1080" width="4" height="31"/><rect x="339" y="1080" width="4" height="16"/><rect x="393" y="1080" width="4" height="16"/><rect x="433" y="1080" width="4" height="16"/><rect x="464" y="1080" width="4" height="16"/><rect x="490" y="1080" width="4" height="16"/><rect x="511" y="1080" width="4" height="16"/><rect x="530" y="1080" width="4" height="16"/><rect x="547" y="1080" width="4" height="16"/><rect x="562" y="1080" width="4" height="16"/><rect x="576" y="1080" width="4" height="16"/><rect x="587" y="1080" width="5" height="31"/><rect x="676" y="1080" width="4" height="16"/><rect x="730" y="1080" width="4" height="16"/><rect x="769" y="1080" width="4" height="16"/><rect x="801" y="1080" width="4" height="16"/><rect x="826" y="1080" width="4" height="16"/><rect x="848" y="1080" width="4" height="16"/><rect x="867" y="1080" width="4" height="16"/><rect x="884" y="1080" width="4" height="16"/><rect x="899" y="1080" width="4" height="16"/><rect x="912" y="1080" width="4" height="16"/><rect x="925" y="1080" width="4" height="31"/><rect x="1012" y="1080" width="4" height="16"/><rect x="1067" y="1080" width="4" height="16"/><rect x="1106" y="1080" width="4" height="16"/><rect x="1137" y="1080" width="4" height="16"/><rect x="1163" y="1080" width="4" height="16"/><rect x="1185" y="1080" width="4" height="16"/><rect x="1204" y="1080" width="4" height="16"/><rect x="1220" y="1080" width="4" height="16"/><rect x="1235" y="1080" width="4" height="16"/><rect x="1249" y="1080" width="4" height="16"/><rect x="1261" y="1080" width="4" height="31"/><rect x="1349" y="1080" width="4" height="16"/><rect x="1403" y="1080" width="4" height="16"/><rect x="1443" y="1080" width="4" height="16"/><rect x="1474" y="1080" width="4" height="16"/><rect x="1499" y="1080" width="4" height="16"/><rect x="1521" y="1080" width="4" height="16"/><rect x="1540" y="1080" width="4" height="16"/><rect x="1557" y="1080" width="4" height="16"/><rect x="1572" y="1080" width="4" height="16"/><rect x="1586" y="1080" width="4" height="16"/><rect x="1597" y="1080" width="5" height="31"/></g>
<g id="ticklabels"><text transform="matrix(0.5628 0 0 0.5580 119.84 74.00)" font-size="100">100</text><text transform="matrix(0.5632 0 0 0.5580 148.53 278.40)" font-size="100">10</text><text transform="matrix(0.4429 0 0 0.5580 178.61 482.80)" font-size="100">1</text><text transform="matrix(0.5504 0 0 0.5580 132.60 687.20)" font-size="100">0.1</text><text transform="matrix(0.5582 0 0 0.5580 104.37 891.60)" font-size="100">0.01</text><text transform="matrix(0.5549 0 0 0.5580 76.58 1096.00)" font-size="100">0.001</text><text transform="matrix(0.5479 0 0 0.5580 204.21 1169.40)" font-size="100">0.01</text><text transform="matrix(0.5348 0 0 0.5580 554.86 1169.40)" font-size="100">0.1</text><text transform="matrix(0.4571 0 0 0.5580 914.29 1169.40)" font-size="100">1</text><text transform="matrix(0.5586 0 0 0.5580 1235.97 1169.40)" font-size="100">10</text><text transform="matrix(0.5577 0 0 0.5580 1558.98 1169.40)" font-size="100">100</text></g>
<text id="annotation"><tspan x="664.59" y="173.40" font-size="60.40" textLength="405.57" lengthAdjust="spacingAndGlyphs">0.96% at 120 Hz</tspan></text>
<text id="xtitle"><tspan x="702.07" y="1248.00" font-size="62.80" textLength="285.02" lengthAdjust="spacingAndGlyphs">Frequency</tspan> <tspan x="1002.77" y="1248.00" font-size="62.80" textLength="146.47" lengthAdjust="spacingAndGlyphs">(kHz)</tspan></text>
<text id="ytitle" transform="translate(72.3 989.0) rotate(-90)"><tspan x="-1.77" y="0.00" font-size="64.60" textLength="101.96" lengthAdjust="spacingAndGlyphs">FFT</tspan> <tspan x="113.56" y="0.00" font-size="61.50" textLength="251.11" lengthAdjust="spacingAndGlyphs">spectrum</tspan> <tspan x="377.26" y="0.00" font-size="61.50" textLength="57.11" lengthAdjust="spacingAndGlyphs">of</tspan> <tspan x="442.35" y="0.00" font-size="61.50" textLength="109.19" lengthAdjust="spacingAndGlyphs">grid</tspan> <tspan x="566.25" y="0.00" font-size="61.50" textLength="201.41" lengthAdjust="spacingAndGlyphs">current</tspan> <tspan x="777.38" y="-0.80" font-size="77.70" textLength="27.56" lengthAdjust="spacingAndGlyphs">(</tspan><tspan x="803.60" y="0.30" font-size="76.50" textLength="22.24" lengthAdjust="spacingAndGlyphs" font-style="italic">i</tspan><tspan x="825.83" y="0.00" font-size="42.30" textLength="22.91" lengthAdjust="spacingAndGlyphs" font-style="italic">a</tspan> <tspan x="863.79" y="1.90" font-size="66.80" textLength="51.61" lengthAdjust="spacingAndGlyphs" font-style="italic">%</tspan><tspan x="913.48" y="-0.80" font-size="77.70" textLength="26.91" lengthAdjust="spacingAndGlyphs">)</tspan></text>
</svg></body></html>
